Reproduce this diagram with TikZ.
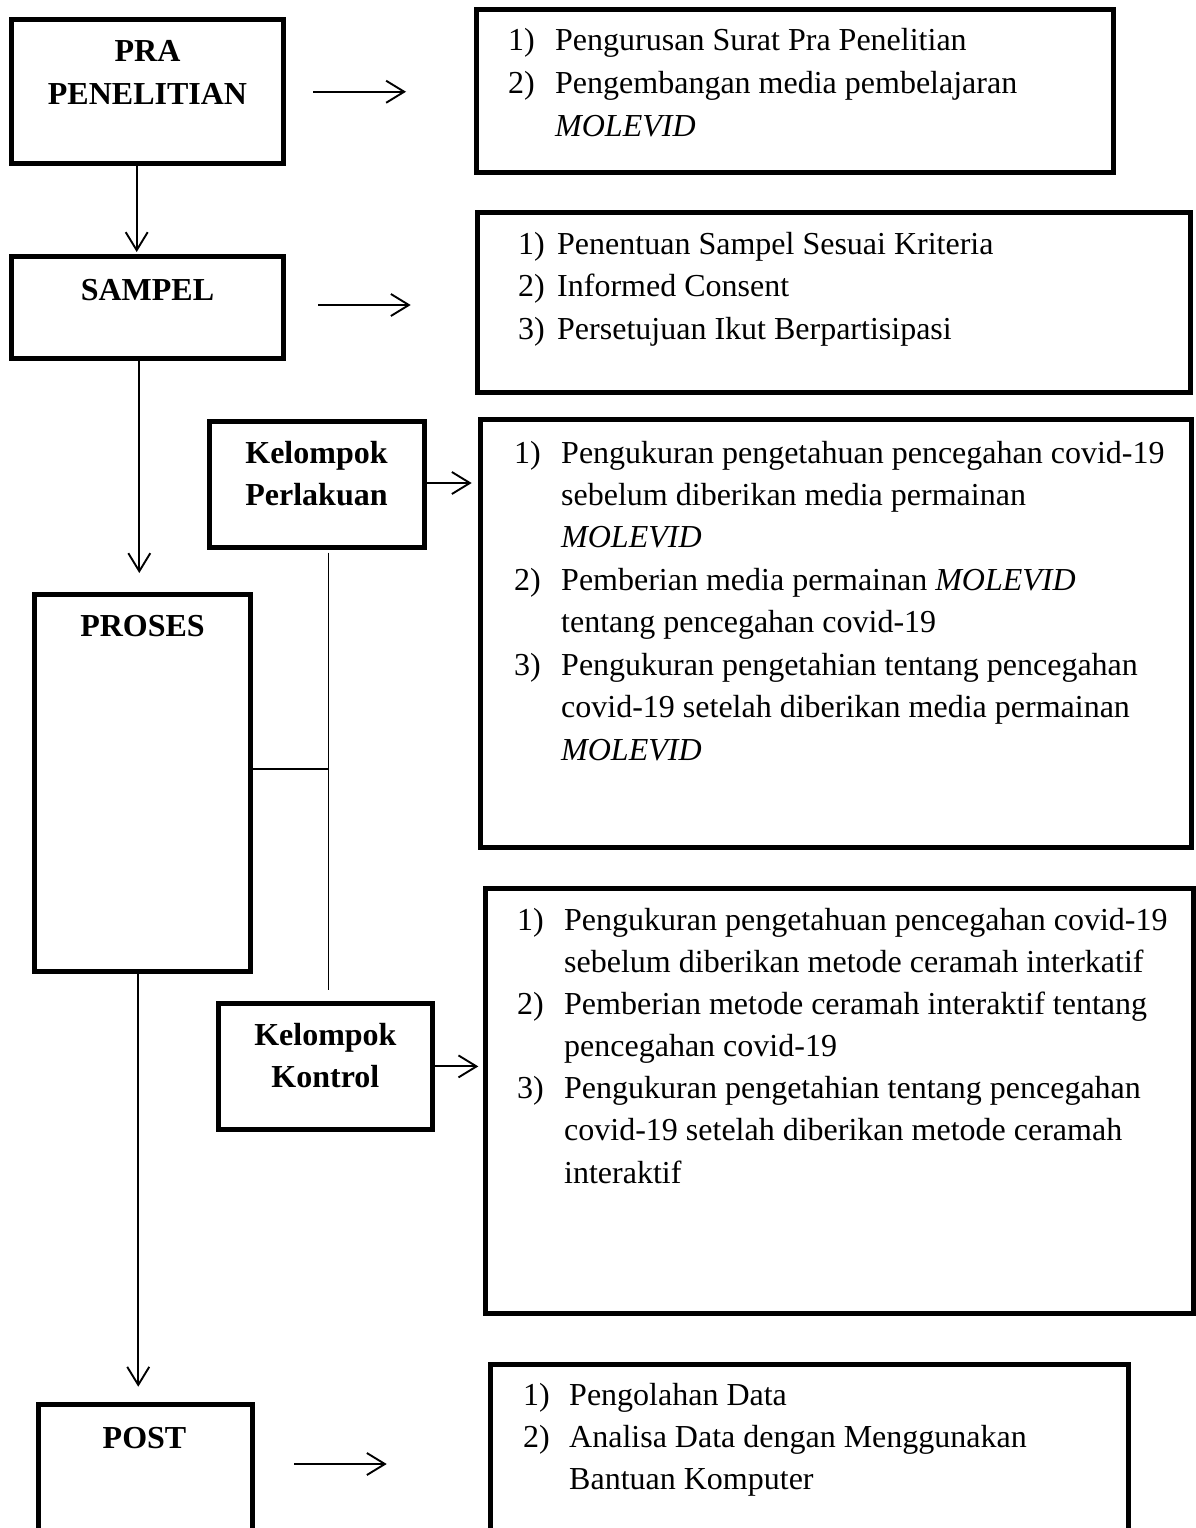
\documentclass[tikz,border=0pt]{standalone}
\usepackage{fontspec}
\setmainfont{Liberation Serif}
\usetikzlibrary{arrows.meta}
\begin{document}
\begin{tikzpicture}[x=1pt,y=-1pt,
  box/.style={draw, line width=5pt, inner sep=0pt, outer sep=0pt, rectangle},
  conn/.style={line width=1.5pt},
  arr/.style={line width=1.9pt, -{Straight Barb[length=18pt,width=22pt]}},
  hd/.style={anchor=base, inner sep=0pt, font=\fontsize{32}{42}\selectfont\bfseries},
  tx/.style={anchor=base west, inner sep=0pt, font=\fontsize{32}{42}\selectfont},
]
\clip (0,0) rectangle (1196,1528);
\fill[white] (0,0) rectangle (1196,1528);

% left boxes
\node[box, minimum width=272pt, minimum height=143.5pt] (pra) at (147.5,91.75) {};
\node[box, minimum width=272pt, minimum height=101.5pt] (sampel) at (147.5,307.25) {};
\node[box, minimum width=216.5pt, minimum height=377pt] (proses) at (142.25,782.5) {};
\node[box, minimum width=214.5pt, minimum height=126.5pt] (kp) at (316.75,484.25) {};
\node[box, minimum width=214.2pt, minimum height=126.2pt] (kk) at (325.4,1066.4) {};
\node[box, minimum width=214pt, minimum height=155pt] (post) at (145,1482) {};

% right boxes
\node[box, minimum width=636.8pt, minimum height=163pt] (b1) at (795.1,91) {};
\node[box, minimum width=713pt, minimum height=179.5pt] (b2) at (834,302.25) {};
\node[box, minimum width=710.5pt, minimum height=428.5pt] (b3) at (835.75,633.25) {};
\node[box, minimum width=708.5pt, minimum height=425.5pt] (b4) at (839.25,1100.75) {};
\node[box, minimum width=637.5pt, minimum height=196pt] (b5) at (809.25,1462) {};

% left labels
\node[hd] (praA) at (147.5,62) {PRA};
\node[hd] (praB) at (147.5,104) {PENELITIAN};
\node[hd] (sampelT) at (147.5,300) {SAMPEL};
\node[hd] (prosesT) at (142.5,636) {PROSES};
\node[hd] (kpA) at (316.5,463) {Kelompok};
\node[hd] (kpB) at (316.5,505) {Perlakuan};
\node[hd] (kkA) at (325.4,1045) {Kelompok};
\node[hd] (kkB) at (325.4,1087) {Kontrol};
\node[hd] (postT) at (144.5,1448) {POST};

% box 1
\node[tx] (b1n1) at (508,51) {1)};
\node[tx] (b1t1) at (555,51) {Pengurusan Surat Pra Penelitian};
\node[tx] (b1n2) at (508,93.4) {2)};
\node[tx] (b1t2) at (555,93.4) {Pengembangan media pembelajaran};
\node[tx] (b1t3) at (555,136) {\itshape MOLEVID};

% box 2
\node[tx] (b2n1) at (518,254) {1)};
\node[tx] (b2t1) at (557,254) {Penentuan Sampel Sesuai Kriteria};
\node[tx] (b2n2) at (518,296.4) {2)};
\node[tx] (b2t2) at (557,296.4) {Informed Consent};
\node[tx] (b2n3) at (518,339) {3)};
\node[tx] (b2t3) at (557,339) {Persetujuan Ikut Berpartisipasi};

% box 3
\node[tx] (b3n1) at (514,463) {1)};
\node[tx] (b3t1) at (561,463) {Pengukuran pengetahuan pencegahan covid-19};
\node[tx] (b3t2) at (561,505.4) {sebelum diberikan media permainan};
\node[tx] (b3t3) at (561,547.9) {\itshape MOLEVID};
\node[tx] (b3n2) at (514,590.3) {2)};
\node[tx] (b3t4) at (561,590.3) {Pemberian media permainan \textit{MOLEVID}};
\node[tx] (b3t5) at (561,632.7) {tentang pencegahan covid-19};
\node[tx] (b3n3) at (514,675.1) {3)};
\node[tx] (b3t6) at (561,675.1) {Pengukuran pengetahian tentang pencegahan};
\node[tx] (b3t7) at (561,717.6) {covid-19 setelah diberikan media permainan};
\node[tx] (b3t8) at (561,760) {\itshape MOLEVID};

% box 4
\node[tx] (b4n1) at (517,930) {1)};
\node[tx] (b4t1) at (564,930) {Pengukuran pengetahuan pencegahan covid-19};
\node[tx] (b4t2) at (564,972.2) {sebelum diberikan metode ceramah interkatif};
\node[tx] (b4n2) at (517,1014.3) {2)};
\node[tx] (b4t3) at (564,1014.3) {Pemberian metode ceramah interaktif tentang};
\node[tx] (b4t4) at (564,1056.5) {pencegahan covid-19};
\node[tx] (b4n3) at (517,1098.7) {3)};
\node[tx] (b4t5) at (564,1098.7) {Pengukuran pengetahian tentang pencegahan};
\node[tx] (b4t6) at (564,1140.8) {covid-19 setelah diberikan metode ceramah};
\node[tx] (b4t7) at (564,1183) {interaktif};

% box 5
\node[tx] (b5n1) at (523,1405) {1)};
\node[tx] (b5t1) at (569,1405) {Pengolahan Data};
\node[tx] (b5n2) at (523,1447) {2)};
\node[tx] (b5t2) at (569,1447) {Analisa Data dengan Menggunakan};
\node[tx] (b5t3) at (569,1489) {Bantuan Komputer};

% horizontal arrows
\draw[arr, shorten <=29.5pt, shorten >=70.7pt] (pra.east) -- (pra.east -| b1.west);
\draw[arr, shorten <=34.5pt, shorten >=66.8pt] ([yshift=2.25pt]sampel.east) -- ([yshift=2.25pt]sampel.east -| b2.west);
\draw[arr, shorten <=2.5pt, shorten >=8.8pt] ([yshift=1.25pt]kp.east) -- ([yshift=1.25pt]kp.east -| b3.west);
\draw[arr, shorten <=2.5pt, shorten >=6.7pt] (kk.east) -- (kk.east -| b4.west);
\draw[arr, shorten <=42pt, shorten >=103.8pt] ([yshift=18pt]post.east) -- ([yshift=18pt]post.east -| b5.west);

% vertical arrows
\draw[arr, shorten <=2.5pt, shorten >=4.5pt] ([xshift=-10.8pt]pra.south) -- ([xshift=-10.8pt]pra.south |- sampel.north);
\draw[arr, shorten <=2.5pt, shorten >=21pt] ([xshift=-8.2pt]sampel.south) -- ([xshift=-8.2pt]sampel.south |- proses.north);
\draw[arr, shorten <=2.5pt, shorten >=17.8pt] ([xshift=-4pt]proses.south) -- ([xshift=-4pt]proses.south |- post.north);

% bracket connector
\coordinate (j) at (328.3,769);
\draw[conn, shorten <=5.2pt, shorten >=13.3pt] (kp.south -| j) -- (kk.north -| j);
\draw[conn, shorten <=2.5pt] (proses.east |- j) -- (j);
\end{tikzpicture}
\end{document}
